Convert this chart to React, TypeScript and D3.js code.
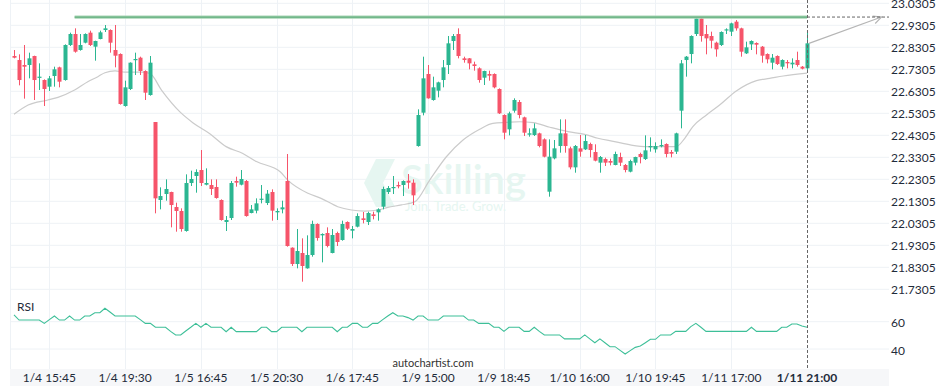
import React from "react";
import * as d3 from "d3";

// ---------- data ----------
const opens = [
  22.7909, 22.7727, 22.75, 22.75, 22.7909, 22.6924, 22.6818, 22.6515, 22.7, 22.7394,
  22.6818, 22.8409, 22.8909, 22.8182, 22.8515, 22.897, 22.8333, 22.8682, 22.9091, 22.9091,
  22.8182, 22.8, 22.5636, 22.6409, 22.7727, 22.7833, 22.7227, 22.6136, 22.4909, 22.1364,
  22.1636, 22.1727, 22.1045, 22.0864, 21.9955, 22.2136, 22.2455, 22.2727, 22.2061, 22.2045,
  22.1955, 22.1364, 22.0364, 22.0545, 22.2227, 22.2061, 22.2227, 22.0773, 22.0879, 22.1379,
  22.1227, 22.1727, 22.0803, 22.0939, 22.2227, 21.9197, 21.8455, 21.8955, 21.8258, 21.8864,
  22.0273, 21.9758, 21.9864, 21.8955, 21.9864, 21.9545, 22.0364, 21.997, 22.0152, 22.053,
  22.0364, 22.0712, 22.0803, 22.1061, 22.1727, 22.1909, 22.2045, 22.2045, 22.2242, 22.2152,
  22.3818, 22.5333, 22.7091, 22.5909, 22.6333, 22.6818, 22.75, 22.8591, 22.8909, 22.7803,
  22.7803, 22.753, 22.7348, 22.6924, 22.7091, 22.7091, 22.6409, 22.5227, 22.4576, 22.5424,
  22.5818, 22.5121, 22.4333, 22.4318, 22.4394, 22.4121, 22.1742, 22.3258, 22.3818, 22.4394,
  22.3712, 22.2848, 22.3712, 22.3667, 22.3909, 22.3545, 22.3061, 22.3227, 22.3136, 22.2955,
  22.3318, 22.2955, 22.2652, 22.3061, 22.3455, 22.3227, 22.3758, 22.3667, 22.3818, 22.3909,
  22.3545, 22.3561, 22.5424, 22.7727, 22.8, 22.8909, 22.9621, 22.8909, 22.8818, 22.8515,
  22.8409, 22.9076, 22.9015, 22.947, 22.9167, 22.803, 22.8439, 22.85, 22.8333, 22.8,
  22.7606, 22.7909, 22.7424, 22.7636, 22.753, 22.7727, 22.7424, 22.7348,
];

const highs = [
  22.8182, 22.7985, 22.8409, 22.8061, 22.7924, 22.7576, 22.6848, 22.7, 22.7424, 22.7424,
  22.8439, 22.897, 22.9167, 22.8909, 22.8939, 22.9061, 22.8606, 22.9061, 22.9318, 22.9121,
  22.9318, 22.803, 22.6788, 22.7621, 22.8061, 22.7879, 22.7258, 22.7909, 22.4909, 22.1939,
  22.2303, 22.1742, 22.1242, 22.0985, 22.253, 22.2697, 22.2758, 22.3636, 22.2803, 22.2303,
  22.2303, 22.1394, 22.0636, 22.2227, 22.2424, 22.2727, 22.2273, 22.1136, 22.1439, 22.2045,
  22.1818, 22.1848, 22.0985, 22.1333, 22.3455, 21.9212, 22.0045, 21.9621, 21.9758, 22.0424,
  22.0303, 21.9848, 22.0121, 22.0045, 21.9924, 22.0424, 22.0394, 22.0182, 22.0758, 22.0818,
  22.0833, 22.0833, 22.0985, 22.197, 22.2, 22.2455, 22.2197, 22.2258, 22.2545, 22.2303,
  22.5485, 22.7879, 22.75, 22.697, 22.6742, 22.7727, 22.8818, 22.8909, 22.9167, 22.7879,
  22.7818, 22.7652, 22.7394, 22.7242, 22.7242, 22.7121, 22.6439, 22.5258, 22.5379, 22.5985,
  22.5909, 22.5152, 22.4621, 22.4848, 22.4424, 22.4167, 22.4121, 22.4091, 22.503, 22.503,
  22.3788, 22.3864, 22.4318, 22.4318, 22.397, 22.3894, 22.3364, 22.3288, 22.3242, 22.3561,
  22.3515, 22.3, 22.3197, 22.3333, 22.3515, 22.4303, 22.4212, 22.3985, 22.4121, 22.3939,
  22.3636, 22.4424, 22.7727, 22.7909, 22.8848, 22.9667, 22.9667, 22.9318, 22.9015, 22.8561,
  22.903, 22.9167, 22.9424, 22.9545, 22.9197, 22.8561, 22.8621, 22.853, 22.8364, 22.803,
  22.8, 22.7939, 22.7758, 22.7727, 22.7803, 22.8106, 22.7455, 22.897,
];

const lows = [
  22.7803, 22.6576, 22.597, 22.6894, 22.5909, 22.6364, 22.5636, 22.6318, 22.6515, 22.6485,
  22.6788, 22.8364, 22.8061, 22.8152, 22.8485, 22.8364, 22.7697, 22.8667, 22.9, 22.8061,
  22.7394, 22.5697, 22.5606, 22.6364, 22.7045, 22.7045, 22.5909, 22.6106, 22.0758, 22.0939,
  22.1333, 22.0121, 21.9924, 21.9924, 21.9924, 22.2, 22.1697, 22.2, 22.203, 22.1591,
  22.1424, 22.0424, 21.9955, 22.0455, 22.197, 22.203, 22.0606, 22.0758, 22.0758, 22.1212,
  22.1136, 22.0424, 22.0455, 22.0758, 21.9242, 21.8364, 21.8258, 21.7652, 21.8242, 21.8788,
  21.9515, 21.853, 21.9212, 21.8939, 21.9273, 21.9515, 22.0, 21.9621, 22.0121, 22.0303,
  22.0227, 22.0485, 22.0424, 22.0939, 22.1636, 22.1636, 22.1894, 22.1545, 22.1879, 22.1136,
  22.3788, 22.5212, 22.597, 22.5879, 22.603, 22.6485, 22.7091, 22.8182, 22.7803, 22.7606,
  22.7303, 22.7242, 22.6697, 22.6591, 22.6788, 22.6439, 22.5273, 22.4121, 22.4303, 22.5333,
  22.5076, 22.4273, 22.4242, 22.4273, 22.3758, 22.3303, 22.1515, 22.3212, 22.3515, 22.3515,
  22.2758, 22.2606, 22.3333, 22.3636, 22.3303, 22.3121, 22.2606, 22.2909, 22.2939, 22.2939,
  22.2909, 22.2621, 22.2621, 22.2939, 22.303, 22.3182, 22.3561, 22.3515, 22.3758, 22.3303,
  22.3303, 22.3455, 22.4621, 22.697, 22.7576, 22.8818, 22.8561, 22.7985, 22.8258, 22.7879,
  22.8364, 22.8909, 22.8818, 22.9061, 22.7879, 22.8, 22.8182, 22.7985, 22.7606, 22.7576,
  22.7303, 22.75, 22.7303, 22.7348, 22.7348, 22.7424, 22.7303, 22.7197,
];

const closes = [
  22.7833, 22.6818, 22.7424, 22.7803, 22.6818, 22.697, 22.6409, 22.6894, 22.7303, 22.6742,
  22.8409, 22.8909, 22.8106, 22.8409, 22.8909, 22.8409, 22.8591, 22.8985, 22.9167, 22.8515,
  22.7924, 22.5727, 22.6485, 22.7606, 22.7773, 22.7227, 22.6242, 22.7606, 22.1439, 22.1545,
  22.1864, 22.1136, 22.0864, 22.0045, 22.2136, 22.2318, 22.2636, 22.2136, 22.2136, 22.1864,
  22.1455, 22.0455, 22.0455, 22.2136, 22.2152, 22.2318, 22.0636, 22.0939, 22.1212, 22.1424,
  22.1652, 22.0879, 22.0864, 22.103, 21.9273, 21.8455, 21.9045, 21.8364, 21.8864, 22.0273,
  21.9636, 21.9818, 21.9273, 21.9773, 21.9455, 22.0273, 22.0061, 22.0045, 22.0636, 22.0455,
  22.0773, 22.0636, 22.0939, 22.1864, 22.1909, 22.1955, 22.1985, 22.2227, 22.2152, 22.1576,
  22.5227, 22.6894, 22.5985, 22.6485, 22.6712, 22.7394, 22.8485, 22.8818, 22.7909, 22.7727,
  22.7576, 22.7455, 22.6818, 22.7227, 22.7015, 22.6485, 22.5303, 22.4424, 22.5303, 22.5909,
  22.5227, 22.4424, 22.4394, 22.4621, 22.3818, 22.3333, 22.3333, 22.3712, 22.4394, 22.3818,
  22.2848, 22.3818, 22.3561, 22.4045, 22.3636, 22.3152, 22.3318, 22.3061, 22.3061, 22.3455,
  22.3061, 22.2727, 22.3136, 22.3318, 22.3318, 22.3621, 22.3818, 22.3818, 22.3864, 22.3455,
  22.347, 22.4394, 22.7576, 22.7879, 22.8818, 22.9621, 22.8818, 22.8712, 22.8606, 22.8212,
  22.9, 22.9121, 22.9394, 22.9167, 22.8106, 22.8303, 22.8591, 22.8424, 22.7924, 22.7758,
  22.7833, 22.7545, 22.7727, 22.7576, 22.7606, 22.75, 22.7333, 22.8485,
];

const rsiValues = [
  65.0, 61.2, 61.2, 61.2, 61.2, 61.2, 58.8, 61.5, 64.2, 61.2,
  61.2, 64.2, 61.2, 61.2, 64.2, 64.2, 66.6, 66.6, 69.8, 67.1,
  64.2, 64.2, 64.2, 64.2, 64.2, 61.5, 58.8, 58.8, 55.9, 55.9,
  55.9, 52.9, 50.3, 50.3, 53.2, 55.9, 58.8, 55.9, 58.8, 55.9,
  55.9, 55.9, 52.7, 55.9, 52.7, 52.7, 52.7, 52.7, 52.7, 55.9,
  55.9, 52.7, 52.7, 55.9, 55.9, 55.9, 55.9, 52.7, 55.9, 55.9,
  55.9, 55.9, 55.9, 55.9, 52.7, 55.9, 55.9, 58.8, 58.8, 55.9,
  55.9, 58.8, 58.8, 61.5, 64.2, 66.6, 64.2, 64.2, 63.0, 61.2,
  64.2, 64.2, 61.2, 61.2, 61.2, 64.2, 64.2, 64.2, 64.2, 64.2,
  61.2, 61.2, 58.8, 58.8, 58.8, 55.9, 55.9, 52.9, 55.9, 55.9,
  55.9, 52.9, 52.9, 55.9, 52.9, 50.3, 50.3, 50.3, 50.3, 47.4,
  47.4, 47.4, 47.4, 50.3, 47.4, 44.6, 47.4, 44.6, 41.7, 41.7,
  39.0, 36.3, 38.8, 41.2, 42.2, 44.6, 47.1, 47.1, 50.3, 50.3,
  50.3, 52.9, 52.9, 52.9, 56.4, 58.8, 55.9, 52.9, 52.9, 52.9,
  52.9, 52.9, 52.9, 52.9, 52.9, 52.9, 55.9, 52.9, 52.9, 52.9,
  52.9, 52.9, 55.9, 55.9, 58.3, 58.3, 56.8, 55.9,
];

// moving average, read at these candle positions
const maIdx = [
  0, 2.8, 6.7, 8.7, 12, 14.6, 16.6, 18, 20, 22, 25.2, 26.9, 29.2, 32.8, 35.4, 38.7, 42, 45.3, 48,
  52.7, 54.2, 58.2, 60.8, 64.1, 66.8, 69.4, 72.1, 74, 76.7, 79.4, 82.3, 85.6, 88.9, 92.2, 94.8,
  97.5, 100.1, 102.8, 106.1, 109.7, 113, 115.6, 118.9, 122.2, 125.5, 131.1, 132.8, 134.4, 137.1,
  139.7, 143, 147, 149.6, 152.3, 157,
];
const maVal = [
  22.526, 22.568, 22.591, 22.603, 22.636, 22.674, 22.697, 22.715, 22.723, 22.718, 22.718, 22.712,
  22.636, 22.538, 22.488, 22.439, 22.379, 22.348, 22.311, 22.265, 22.227, 22.167, 22.144, 22.106,
  22.091, 22.086, 22.091, 22.103, 22.114, 22.129, 22.227, 22.333, 22.409, 22.458, 22.485, 22.489,
  22.492, 22.488, 22.467, 22.447, 22.435, 22.417, 22.402, 22.386, 22.379, 22.379, 22.417, 22.47,
  22.523, 22.568, 22.632, 22.679, 22.689, 22.7, 22.713,
];

const priceTicks = [
  "21.7305", "21.8305", "21.9305", "22.0305", "22.1305", "22.2305", "22.3305",
  "22.4305", "22.5305", "22.6305", "22.7305", "22.8305", "22.9305", "23.0305",
];
const timeTickIdx = [7, 22, 37, 52, 67, 82, 97, 112, 127, 142];
const timeTickLabels = [
  "1/4 15:45", "1/4 19:30", "1/5 16:45", "1/5 20:30", "1/6 17:45",
  "1/9 15:00", "1/9 18:45", "1/10 16:00", "1/10 19:45", "1/11 17:00",
];
const lastLabel = "1/11 21:00";
const rsiTicks = [60, 40];
const resistanceLevel = 22.968;
const resistanceStartIdx = 12;
const forecastTarget = 22.968;

// ---------- chart ----------
const UP = "#2bb691";
const DOWN = "#f6546a";
const GRID = "#eef2f6";
const TEXT = "#1f2b3a";
const FONT = "Lato, 'Open Sans', sans-serif";

export default function App() {
  const W = 936;
  const H = 390;
  const plotL = 10;
  const plotR = 889;
  const n = closes.length;

  const x = d3.scaleLinear().domain([0, n - 1]).range([14, 807]);
  const y = d3.scaleLinear().domain([21.7305, 23.0305]).range([289.3, 3.3]);
  const yr = d3.scaleLinear().domain([40, 60]).range([349, 321.7]);

  const lastX = x(n - 1);

  const maLine = d3
    .line<number>()
    .x((_, i) => x(maIdx[i]))
    .y((d) => y(d))
    .curve(d3.curveMonotoneX)(maVal);

  const rsiLine = d3
    .line<number>()
    .x((_, i) => x(i))
    .y((d) => yr(d))(rsiValues);

  const bodyW = 4;

  const arrowStart: [number, number] = [lastX + 2, y(closes[n - 1])];
  const arrowEnd: [number, number] = [881.5, y(forecastTarget)];
  const ang = Math.atan2(arrowEnd[1] - arrowStart[1], arrowEnd[0] - arrowStart[0]);
  const ah = 9;
  const a1 = [arrowEnd[0] - ah * Math.cos(ang - 0.45), arrowEnd[1] - ah * Math.sin(ang - 0.45)];
  const a2 = [arrowEnd[0] - ah * Math.cos(ang + 0.45), arrowEnd[1] - ah * Math.sin(ang + 0.45)];

  return (
    <div style={{ position: "fixed", left: 0, top: 0, width: W, height: H, background: "#fff" }}>
      <svg width={W} height={H} style={{ display: "block", fontFamily: FONT }}>
        <defs>
          <clipPath id="plotClip">
            <rect x={plotL} y={0} width={plotR - plotL} height={296} />
          </clipPath>
        </defs>
        <rect x={0} y={0} width={W} height={H} fill="#fff" />

        {/* horizontal price gridlines */}
        {priceTicks.map((t) => (
          <line key={"hg" + t} x1={plotL} x2={plotR} y1={y(+t)} y2={y(+t)} stroke={GRID} strokeWidth={1} />
        ))}
        {/* rsi gridlines */}
        {rsiTicks.map((t) => (
          <line key={"rg" + t} x1={plotL} x2={plotR} y1={yr(t)} y2={yr(t)} stroke={GRID} strokeWidth={1} />
        ))}
        {/* vertical gridlines */}
        <line x1={plotL + 0.5} x2={plotL + 0.5} y1={0} y2={369} stroke={GRID} />
        {timeTickIdx.map((t) => (
          <line key={"vg" + t} x1={Math.round(x(t)) + 0.5} x2={Math.round(x(t)) + 0.5} y1={0} y2={369} stroke={GRID} />
        ))}

        {/* watermark */}
        <g>
          <polygon
            points="376,159 395,159 383,183 395,207 376,207 364,183"
            fill="#e6f6f1"
          />
          <text x={401} y={194} fontSize={40} fontWeight={600} fill="#e6f6f1" fontFamily={FONT}>
            Skilling
          </text>
          <text x={405} y={211} fontSize={13} fill="#e6f6f1" fontFamily={FONT}>
            Join. Trade. Grow.
          </text>
        </g>

        <g clipPath="url(#plotClip)">
          {/* moving average */}
          <path d={maLine || ""} fill="none" stroke="#cbcbcb" strokeWidth={1.2} />

          {/* candles */}
          {closes.map((c, i) => {
            const o = opens[i];
            const up = c >= o;
            const col = up ? UP : DOWN;
            const cx = x(i);
            const wx = Math.round(cx) + 0.5;
            const top = y(Math.max(o, c));
            const bot = y(Math.min(o, c));
            return (
              <g key={"c" + i}>
                <line x1={wx} x2={wx} y1={y(highs[i])} y2={y(lows[i])} stroke={col} strokeWidth={1} />
                <rect
                  x={Math.round(cx) - bodyW / 2 + 0.5}
                  y={top}
                  width={bodyW}
                  height={Math.max(1.2, bot - top)}
                  fill={col}
                />
              </g>
            );
          })}

          {/* resistance line */}
          <line
            x1={x(resistanceStartIdx)}
            x2={lastX}
            y1={y(resistanceLevel)}
            y2={y(resistanceLevel)}
            stroke="#a9d6b6"
            strokeWidth={3.2}
          />
          <line
            x1={x(resistanceStartIdx)}
            x2={lastX}
            y1={y(resistanceLevel)}
            y2={y(resistanceLevel)}
            stroke="#62ad7c"
            strokeWidth={1.2}
          />
        </g>

        {/* forecast arrow */}
        <line x1={arrowStart[0]} y1={arrowStart[1]} x2={arrowEnd[0]} y2={arrowEnd[1]} stroke="#b5b5b5" strokeWidth={1.2} />
        <polyline
          points={`${a1[0]},${a1[1]} ${arrowEnd[0]},${arrowEnd[1]} ${a2[0]},${a2[1]}`}
          fill="none"
          stroke="#b5b5b5"
          strokeWidth={1.2}
        />

        {/* dashed current-time / level lines */}
        <line x1={lastX + 0.5} x2={lastX + 0.5} y1={0} y2={369} stroke="#666" strokeWidth={1} strokeDasharray="3,2" />
        <line x1={lastX} x2={plotR} y1={y(resistanceLevel)} y2={y(resistanceLevel)} stroke="#666" strokeWidth={1} strokeDasharray="3,2" />

        {/* RSI */}
        <text x={17} y={311} fontSize={12} fill={TEXT} fontFamily={FONT}>RSI</text>
        <path d={rsiLine || ""} fill="none" stroke="#3dbf98" strokeWidth={1.1} />

        {/* right price axis labels */}
        {priceTicks.map((t) => (
          <text key={"pl" + t} x={891} y={y(+t) + 2} fontSize={12} fill={TEXT} dominantBaseline="middle" fontFamily={FONT}>
            {t}
          </text>
        ))}
        {rsiTicks.map((t) => (
          <text key={"rl" + t} x={891} y={yr(t) + 2.5} fontSize={12} fill={TEXT} dominantBaseline="middle" fontFamily={FONT}>
            {t}
          </text>
        ))}

        <text x={433} y={367} fontSize={11} fill="#333" textAnchor="middle" fontFamily={FONT}>
          autochartist.com
        </text>

        {/* bottom time axis */}
        <rect x={plotL} y={369} width={plotR - plotL} height={17} fill="#f6f7f9" />
        {timeTickIdx.map((t, i) => (
          <text key={"tl" + t} x={x(t)} y={382} fontSize={12} fill={TEXT} textAnchor="middle" fontFamily={FONT}>
            {timeTickLabels[i]}
          </text>
        ))}
        <text x={lastX} y={382} fontSize={12} fontWeight={700} fill={TEXT} textAnchor="middle" fontFamily={FONT}>
          {lastLabel}
        </text>
      </svg>
    </div>
  );
}
